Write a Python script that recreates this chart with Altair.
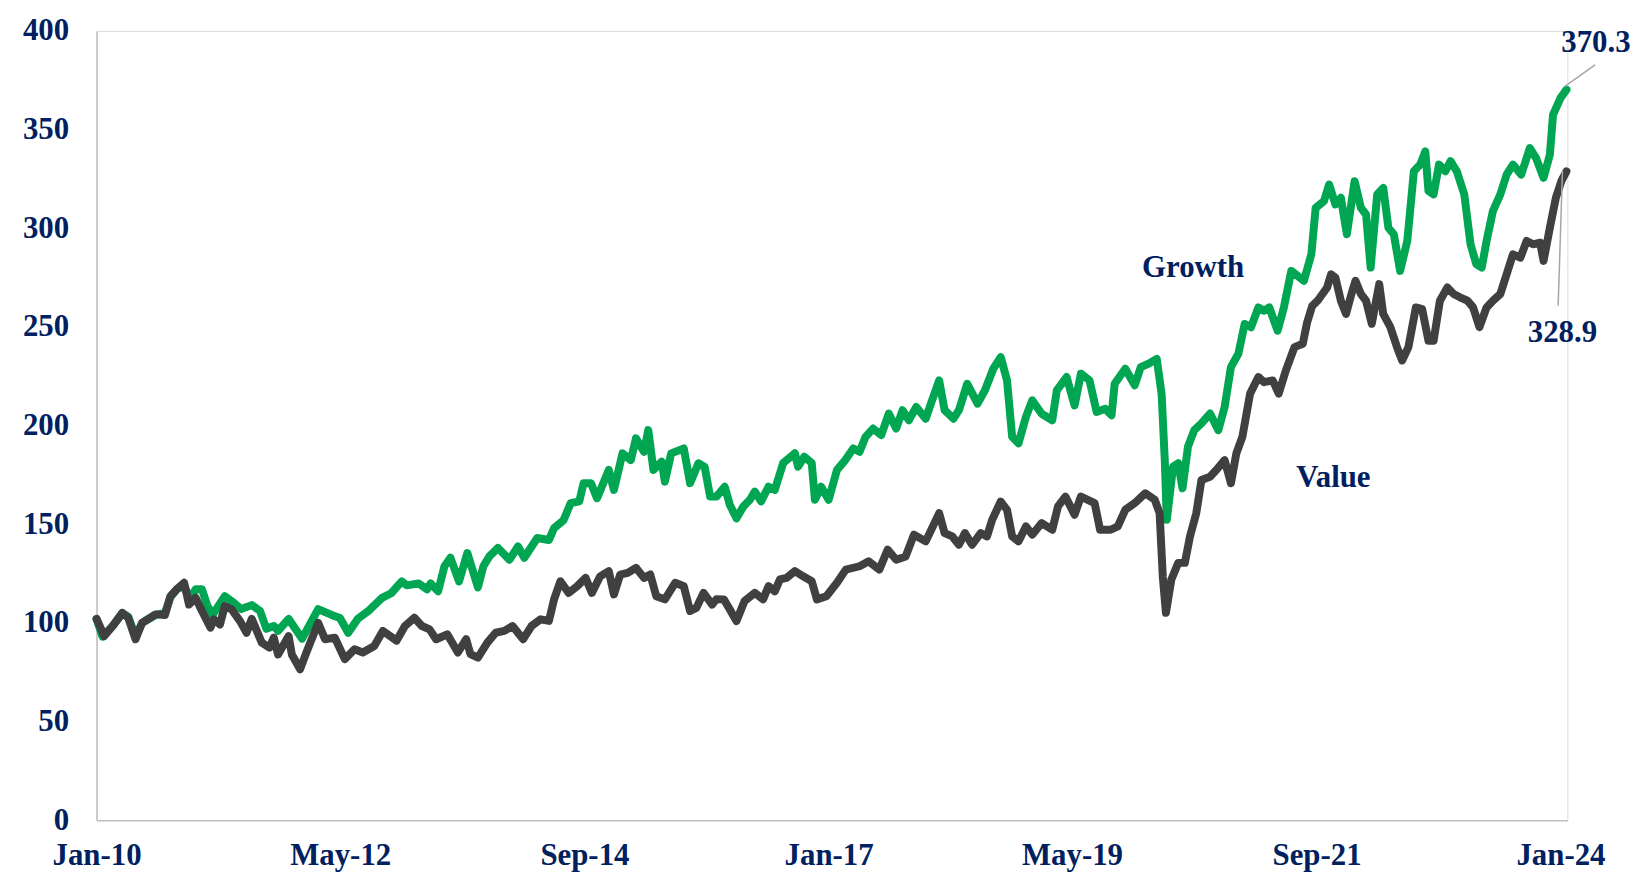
import altair as alt
import pandas as pd

# ---------------- data ----------------
growth_dates = [
    "2010-01-01", "2010-01-22", "2010-02-24", "2010-04-01", "2010-04-22", "2010-05-17", "2010-06-09",
    "2010-07-26", "2010-08-28", "2010-09-16", "2010-10-08", "2010-11-03", "2010-11-21", "2010-12-13",
    "2011-01-04", "2011-01-22", "2011-02-10", "2011-03-25", "2011-04-18", "2011-05-21", "2011-06-27",
    "2011-07-26", "2011-08-17", "2011-09-12", "2011-09-27", "2011-11-03", "2011-12-20", "2012-02-14",
    "2012-04-01", "2012-04-30", "2012-05-29", "2012-07-01", "2012-08-07", "2012-09-24", "2012-10-26",
    "2012-12-02", "2012-12-20", "2013-01-30", "2013-02-28", "2013-03-13", "2013-04-08", "2013-04-30",
    "2013-05-21", "2013-06-20", "2013-07-19", "2013-08-25", "2013-09-13", "2013-10-04", "2013-11-03",
    "2013-12-13", "2014-01-12", "2014-02-03", "2014-03-20", "2014-04-30", "2014-05-18", "2014-06-20",
    "2014-07-15", "2014-08-14", "2014-08-29", "2014-09-24", "2014-10-15", "2014-11-25", "2014-12-13",
    "2015-01-12", "2015-02-10", "2015-02-28", "2015-03-28", "2015-04-12", "2015-04-30", "2015-05-29",
    "2015-06-09", "2015-07-01", "2015-08-14", "2015-09-05", "2015-10-04", "2015-10-26", "2015-11-14",
    "2015-12-06", "2016-01-04", "2016-01-22", "2016-02-14", "2016-03-09", "2016-04-01", "2016-04-18",
    "2016-05-10", "2016-06-05", "2016-06-27", "2016-07-26", "2016-09-05", "2016-09-16", "2016-10-08",
    "2016-11-03", "2016-11-14", "2016-12-06", "2017-01-01", "2017-01-30", "2017-02-28", "2017-03-28",
    "2017-04-19", "2017-05-10", "2017-06-05", "2017-07-04", "2017-07-30", "2017-08-25", "2017-09-16",
    "2017-10-08", "2017-11-03", "2017-12-06", "2017-12-24", "2018-01-22", "2018-02-10", "2018-03-13",
    "2018-04-01", "2018-04-30", "2018-06-05", "2018-07-01", "2018-07-30", "2018-08-25", "2018-09-16",
    "2018-10-04", "2018-10-26", "2018-11-21", "2018-12-13", "2019-01-15", "2019-02-21", "2019-03-09",
    "2019-04-12", "2019-05-10", "2019-06-01", "2019-07-01", "2019-07-26", "2019-08-25", "2019-09-16",
    "2019-09-27", "2019-11-03", "2019-12-06", "2019-12-27", "2020-01-22", "2020-02-21", "2020-03-09",
    "2020-03-20", "2020-03-27", "2020-04-18", "2020-05-06", "2020-05-21", "2020-06-09", "2020-07-01",
    "2020-07-26", "2020-08-25", "2020-09-23", "2020-10-15", "2020-11-06", "2020-12-02", "2020-12-24",
    "2021-01-15", "2021-02-10", "2021-03-02", "2021-03-20", "2021-04-18", "2021-05-10", "2021-06-05",
    "2021-07-19", "2021-08-14", "2021-08-29", "2021-09-27", "2021-10-15", "2021-11-06", "2021-11-25",
    "2021-12-16", "2022-01-12", "2022-02-03", "2022-02-21", "2022-03-09", "2022-04-01", "2022-04-22",
    "2022-05-10", "2022-05-29", "2022-06-20", "2022-07-15", "2022-08-07", "2022-08-29", "2022-09-16",
    "2022-09-27", "2022-10-15", "2022-11-03", "2022-11-25", "2022-12-13", "2023-01-04", "2023-01-30",
    "2023-02-21", "2023-03-13", "2023-04-01", "2023-04-18", "2023-05-10", "2023-06-05", "2023-06-27",
    "2023-07-19", "2023-08-17", "2023-09-16", "2023-10-08", "2023-11-03", "2023-11-25", "2023-12-06",
    "2024-01-01", "2024-01-22",
]
growth_values = [
    102, 93, 98, 105, 103, 93, 100,
    104, 105, 113, 117, 119, 112, 117,
    117, 109, 104, 113.5, 111, 107, 109,
    106, 97, 98.4, 96, 102, 92, 107,
    104, 102.5, 95, 102, 106, 112.7, 115,
    121, 119, 120, 117, 120, 116, 128.7,
    133, 121, 135.4, 118, 128.7, 133.7, 138,
    132, 138.7, 133, 143, 142, 148, 152,
    160.7, 161.6, 170.8, 170.8, 163.2, 177.5, 167.4,
    185.9, 182.5, 193.5, 186.7, 197.7, 177.5, 181.7,
    171.6, 185.9, 188.4, 170.8, 180.9, 179, 164,
    164, 169, 159.8, 153, 159, 162.4, 166.5,
    161.6, 169, 167.4, 181, 186, 179.2, 184.2,
    181, 162.4, 169, 162.4, 177.5, 182.5, 188.4,
    186.7, 194.3, 198.5, 195.2, 206.1, 198.5, 207.8,
    202.7, 209.4, 203.5, 211.1, 222.9, 207.8, 203.5,
    207.8, 221.2, 211.1, 217.9, 228.8, 234.7, 222.9,
    194.3, 191, 204.4, 212.8, 206, 202.7, 217.9,
    224.6, 210.2, 226.3, 222.9, 206.9, 208.5, 205.2,
    221.2, 228.8, 220.4, 229.6, 231.3, 233.8, 216,
    182.5, 152.2, 179.2, 180.9, 168.2, 189.3, 197.7,
    201.1, 206.1, 197.7, 209.4, 229.6, 236.4, 251.5,
    249.8, 259.9, 258.2, 259.9, 248.1, 259.9, 278.4,
    273.4, 286.9, 310.4, 313.8, 322.2, 312.1, 315.5,
    297, 323.9, 310.4, 307, 280.1, 317.2, 320.5,
    300.3, 297, 278.4, 293.6, 328.9, 332.3, 339,
    318.9, 317.2, 332.3, 328.9, 334, 328.9, 317.2,
    291.9, 281.8, 280.1, 293.6, 308.7, 317.2, 327.2,
    332.3, 327.2, 340.7, 335.6, 325.6, 337.3, 357.5,
    366, 370.3,
]

value_dates = [
    "2010-01-01", "2010-01-28", "2010-02-26", "2010-04-01", "2010-04-22", "2010-05-17", "2010-06-09",
    "2010-07-26", "2010-08-28", "2010-09-16", "2010-10-08", "2010-11-03", "2010-11-20", "2010-12-13",
    "2011-01-04", "2011-02-03", "2011-02-15", "2011-03-08", "2011-03-25", "2011-04-18", "2011-05-17",
    "2011-06-09", "2011-06-27", "2011-08-01", "2011-08-28", "2011-09-12", "2011-09-27", "2011-11-03",
    "2011-11-14", "2011-12-13", "2012-01-04", "2012-02-14", "2012-03-09", "2012-04-12", "2012-05-17",
    "2012-06-20", "2012-07-19", "2012-08-28", "2012-09-27", "2012-11-14", "2012-12-13", "2013-01-15",
    "2013-02-10", "2013-03-09", "2013-04-01", "2013-05-10", "2013-06-16", "2013-07-15", "2013-07-30",
    "2013-08-25", "2013-09-27", "2013-10-26", "2013-11-25", "2013-12-24", "2014-01-30", "2014-02-28",
    "2014-04-01", "2014-04-30", "2014-05-18", "2014-06-09", "2014-07-08", "2014-08-07", "2014-09-05",
    "2014-09-27", "2014-10-26", "2014-11-25", "2014-12-13", "2015-01-04", "2015-01-30", "2015-02-28",
    "2015-03-28", "2015-04-19", "2015-05-10", "2015-06-09", "2015-07-15", "2015-08-14", "2015-09-05",
    "2015-09-27", "2015-10-22", "2015-11-21", "2015-12-06", "2016-01-01", "2016-01-22", "2016-02-14",
    "2016-03-13", "2016-04-18", "2016-05-17", "2016-06-05", "2016-06-27", "2016-07-15", "2016-08-07",
    "2016-09-05", "2016-10-04", "2016-11-03", "2016-11-21", "2016-12-24", "2017-01-30", "2017-03-02",
    "2017-04-19", "2017-05-21", "2017-06-27", "2017-07-26", "2017-08-25", "2017-09-27", "2017-10-26",
    "2017-12-06", "2018-01-22", "2018-02-10", "2018-03-09", "2018-04-01", "2018-04-22", "2018-05-17",
    "2018-06-16", "2018-07-08", "2018-07-26", "2018-08-25", "2018-09-16", "2018-10-04", "2018-10-26",
    "2018-11-21", "2018-12-13", "2019-01-15", "2019-02-21", "2019-03-13", "2019-04-08", "2019-05-10",
    "2019-06-01", "2019-07-19", "2019-08-07", "2019-09-13", "2019-10-08", "2019-11-03", "2019-12-06",
    "2020-01-12", "2020-02-14", "2020-03-02", "2020-03-13", "2020-03-24", "2020-04-12", "2020-05-06",
    "2020-05-29", "2020-06-16", "2020-07-08", "2020-07-26", "2020-08-25", "2020-09-16", "2020-10-15",
    "2020-11-06", "2020-11-25", "2020-12-16", "2021-01-12", "2021-02-10", "2021-03-02", "2021-04-01",
    "2021-04-22", "2021-05-17", "2021-06-16", "2021-07-15", "2021-07-30", "2021-08-17", "2021-09-05",
    "2021-10-08", "2021-10-22", "2021-11-06", "2021-11-25", "2021-12-13", "2022-01-01", "2022-01-15",
    "2022-02-03", "2022-02-21", "2022-03-13", "2022-04-08", "2022-04-22", "2022-05-17", "2022-06-09",
    "2022-06-27", "2022-07-19", "2022-08-14", "2022-09-05", "2022-09-27", "2022-10-15", "2022-11-06",
    "2022-12-02", "2022-12-24", "2023-01-15", "2023-02-10", "2023-03-02", "2023-03-24", "2023-04-18",
    "2023-05-10", "2023-06-05", "2023-06-27", "2023-07-19", "2023-08-14", "2023-09-05", "2023-09-27",
    "2023-10-22", "2023-11-03", "2023-11-25", "2023-12-16", "2024-01-04", "2024-01-22",
]
value_values = [
    102, 93.3, 98.4, 105, 102.5, 91.7, 100,
    104.3, 104, 113.5, 117, 120.3, 109.3, 112.7,
    106, 97.6, 101.8, 99.2, 108.5, 106.8, 100.9,
    95, 102, 90, 87.5, 92.5, 84, 93.3,
    84, 76.5, 85, 100, 91.7, 92.5, 81.6,
    86.6, 85, 88.3, 95.9, 91, 98.4, 102.6,
    98.4, 96.7, 91.7, 94.2, 85, 91.7, 84.1,
    82.4, 90, 95, 95.9, 98.4, 91.7, 98.4,
    101.8, 101, 111.9, 121.1, 115.2, 118.6, 122.8,
    115.2, 123.6, 126.2, 114.4, 124.5, 125.3, 127.9,
    122.8, 124.5, 113.5, 111.9, 120.3, 118.6, 106,
    107.6, 115.2, 109.3, 112, 111.9, 106.8, 100.9,
    111, 115.2, 111.9, 118.6, 116, 122, 122.8,
    126.2, 123.6, 121.1, 111.9, 113.5, 120.3, 127,
    128.7, 131.2, 127, 137.1, 132, 133.7, 144.7,
    141.3, 155.6, 145.5, 143.8, 139.6, 145.5, 139.6,
    145.5, 143.8, 152.2, 161.5, 157.3, 143.8, 141.3,
    148.9, 144.7, 150.6, 147.2, 159, 164, 154.8,
    164, 160.7, 147.2, 147.2, 148.9, 157.3, 160.7,
    165.7, 162.4, 155.6, 123.6, 105.1, 122, 130.4,
    130.4, 143.8, 155.6, 172.4, 174.1, 177.5, 182.5,
    170.8, 185.9, 194.3, 216.2, 224.6, 222, 222.9,
    216.2, 228, 239.8, 241.5, 252.2, 260.7, 263.3,
    270, 276.7, 275, 263.3, 256.6, 266.7, 273.4,
    266.7, 263.3, 251.6, 271.7, 256.6, 249.9, 239.8,
    233, 239.8, 259.9, 259, 243, 243, 263.3,
    270, 266.7, 265, 263.3, 259.9, 249.9, 259.9,
    263.3, 266.7, 276.7, 286.8, 285.1, 293.6, 291.9,
    292.7, 283.5, 300.3, 315.5, 323.9, 328.9,
]

series_names = ["Growth", "Value"]
series_colors = ["#00A651", "#404040"]

y_ticks = [0, 50, 100, 150, 200, 250, 300, 350, 400]
x_tick_labels = ["Jan-10", "May-12", "Sep-14", "Jan-17", "May-19", "Sep-21", "Jan-24"]
x_tick_dates = [(2010, 1), (2012, 5), (2014, 9), (2017, 1), (2019, 5), (2021, 9), (2024, 1)]

label_texts = ["Growth", "Value", "370.3", "328.9"]
label_dates = ["2020-06-27", "2021-10-30", "2024-05-04", "2024-01-08"]
label_values = [280, 173.4, 394, 247]

leader_start_dates = ["2024-01-15", "2024-01-08"]
leader_start_values = [371.8, 329]
leader_end_dates = ["2024-05-01", "2023-12-24"]
leader_end_values = [382.8, 260.8]

# ---------------- tables ----------------
growth_df = pd.DataFrame({"date": pd.to_datetime(growth_dates), "index": growth_values,
                          "series": series_names[0]})
value_df = pd.DataFrame({"date": pd.to_datetime(value_dates), "index": value_values,
                         "series": series_names[1]})
labels_df = pd.DataFrame({"date": pd.to_datetime(label_dates), "index": label_values,
                          "text": label_texts})
leaders_df = pd.DataFrame({"date": pd.to_datetime(leader_start_dates), "index": leader_start_values,
                           "date2": pd.to_datetime(leader_end_dates), "index2": leader_end_values})

NAVY = "#002060"
FONT = "Liberation Serif"

x_scale = alt.Scale(domain=[alt.DateTime(year=2010, month=1, date=1),
                            alt.DateTime(year=2024, month=1, date=25)])
y_scale = alt.Scale(domain=[0, 400], nice=False)

x_axis = alt.Axis(
    values=[alt.DateTime(year=y, month=m, date=1) for y, m in x_tick_dates],
    format="%b-%y", title=None, grid=False, ticks=False, tickSize=0,
    labelPadding=21, labelFont=FONT, labelFontWeight="bold", labelFontSize=31,
    labelColor=NAVY, domainColor="#BFBFBF", domainWidth=1.5, labelFlush=False,
    labelOverlap=False,
)
y_axis = alt.Axis(
    values=y_ticks, title=None, grid=False, ticks=False, tickSize=0,
    labelPadding=28, labelFont=FONT, labelFontWeight="bold", labelFontSize=31,
    labelColor=NAVY, domainColor="#BFBFBF", domainWidth=1.5,
)

growth_line = alt.Chart(growth_df).mark_line(
    color=series_colors[0], strokeWidth=8, strokeJoin="round", strokeCap="round"
).encode(
    x=alt.X("date:T", scale=x_scale, axis=x_axis),
    y=alt.Y("index:Q", scale=y_scale, axis=y_axis),
)

value_line = alt.Chart(value_df).mark_line(
    color=series_colors[1], strokeWidth=8, strokeJoin="round", strokeCap="round"
).encode(
    x=alt.X("date:T", scale=x_scale),
    y=alt.Y("index:Q", scale=y_scale),
)

leaders = alt.Chart(leaders_df).mark_rule(color="#A6A6A6", strokeWidth=1.5).encode(
    x=alt.X("date:T", scale=x_scale),
    x2="date2:T",
    y=alt.Y("index:Q", scale=y_scale),
    y2="index2:Q",
)

labels = alt.Chart(labels_df).mark_text(
    font=FONT, fontWeight="bold", fontSize=31, color=NAVY, align="center", baseline="middle"
).encode(
    x=alt.X("date:T", scale=x_scale),
    y=alt.Y("index:Q", scale=y_scale),
    text="text:N",
)

chart = alt.layer(growth_line, value_line, leaders, labels).properties(
    width=1478, height=793,
    autosize=alt.AutoSizeParams(type="none"),
    padding={"left": 89, "top": 21, "right": 66, "bottom": 56},
).configure_view(stroke=None).configure(background="white")

chart.save("out.html", embed_options={"renderer": "svg", "actions": False})
